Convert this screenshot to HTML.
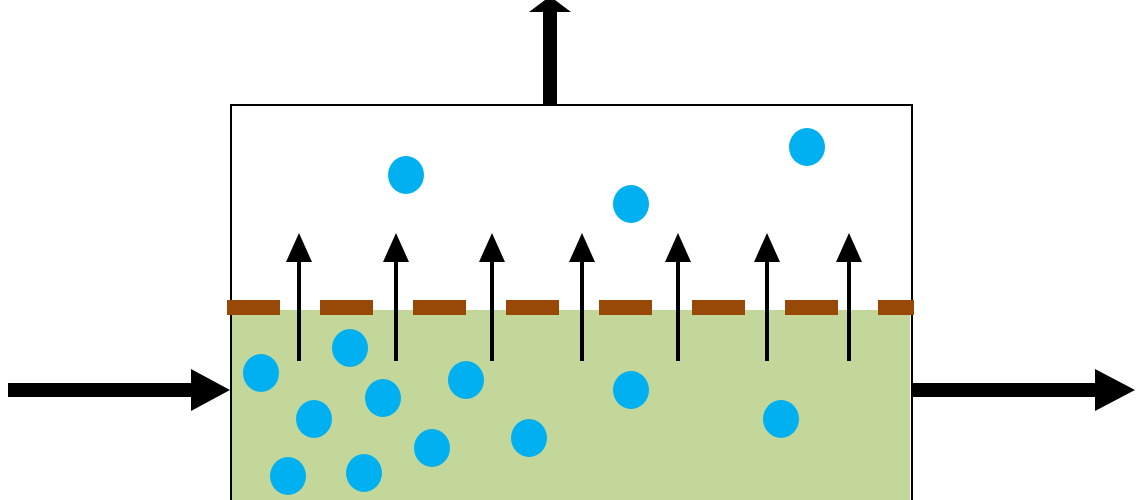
<!DOCTYPE html>
<html><head><style>html,body{margin:0;padding:0;background:#fff;width:1148px;height:500px;overflow:hidden}</style></head>
<body>
<svg width="1148" height="500" viewBox="0 0 1148 500" xmlns="http://www.w3.org/2000/svg">
<rect x="232" y="310" width="678" height="200" fill="#c4d79b"/>
<path d="M231 500 V105 H912 V500" fill="none" stroke="#000" stroke-width="2"/>
<g fill="#984807">
<rect x="227" y="300" width="53" height="15"/>
<rect x="320" y="300" width="53" height="15"/>
<rect x="413" y="300" width="53" height="15"/>
<rect x="506" y="300" width="53" height="15"/>
<rect x="599" y="300" width="53" height="15"/>
<rect x="692" y="300" width="53" height="15"/>
<rect x="785" y="300" width="53" height="15"/>
<rect x="878" y="300" width="36" height="15"/>
</g>
<g fill="#000">
<rect x="543" y="10" width="14" height="96"/>
<polygon points="529,12 571,12 555,0 545,0"/>
<rect x="8" y="383" width="184" height="14"/>
<polygon points="191,369 230,390 191,411"/>
<rect x="912" y="383" width="184" height="14"/>
<polygon points="1095,369 1135,390 1095,411"/>
</g>
<g fill="#000">
<g transform="translate(299,0)"><rect x="-2" y="255" width="4" height="106"/><polygon points="-13,262 13,262 0,233"/></g>
<g transform="translate(396,0)"><rect x="-2" y="255" width="4" height="106"/><polygon points="-13,262 13,262 0,233"/></g>
<g transform="translate(492,0)"><rect x="-2" y="255" width="4" height="106"/><polygon points="-13,262 13,262 0,233"/></g>
<g transform="translate(582,0)"><rect x="-2" y="255" width="4" height="106"/><polygon points="-13,262 13,262 0,233"/></g>
<g transform="translate(678,0)"><rect x="-2" y="255" width="4" height="106"/><polygon points="-13,262 13,262 0,233"/></g>
<g transform="translate(767,0)"><rect x="-2" y="255" width="4" height="106"/><polygon points="-13,262 13,262 0,233"/></g>
<g transform="translate(849,0)"><rect x="-2" y="255" width="4" height="106"/><polygon points="-13,262 13,262 0,233"/></g>
</g>
<g fill="#00b0f0">
<ellipse cx="406" cy="175" rx="18" ry="19"/>
<ellipse cx="631" cy="204" rx="18" ry="19"/>
<ellipse cx="807" cy="147" rx="18" ry="19"/>
<ellipse cx="261" cy="373" rx="18" ry="19"/>
<ellipse cx="350" cy="348" rx="18" ry="19"/>
<ellipse cx="383" cy="398" rx="18" ry="19"/>
<ellipse cx="314" cy="419" rx="18" ry="19"/>
<ellipse cx="466" cy="380" rx="18" ry="19"/>
<ellipse cx="432" cy="448" rx="18" ry="19"/>
<ellipse cx="529" cy="438" rx="18" ry="19"/>
<ellipse cx="631" cy="390" rx="18" ry="19"/>
<ellipse cx="781" cy="419" rx="18" ry="19"/>
<ellipse cx="288" cy="476" rx="18" ry="19"/>
<ellipse cx="364" cy="473" rx="18" ry="19"/>
</g>
</svg>
</body></html>
